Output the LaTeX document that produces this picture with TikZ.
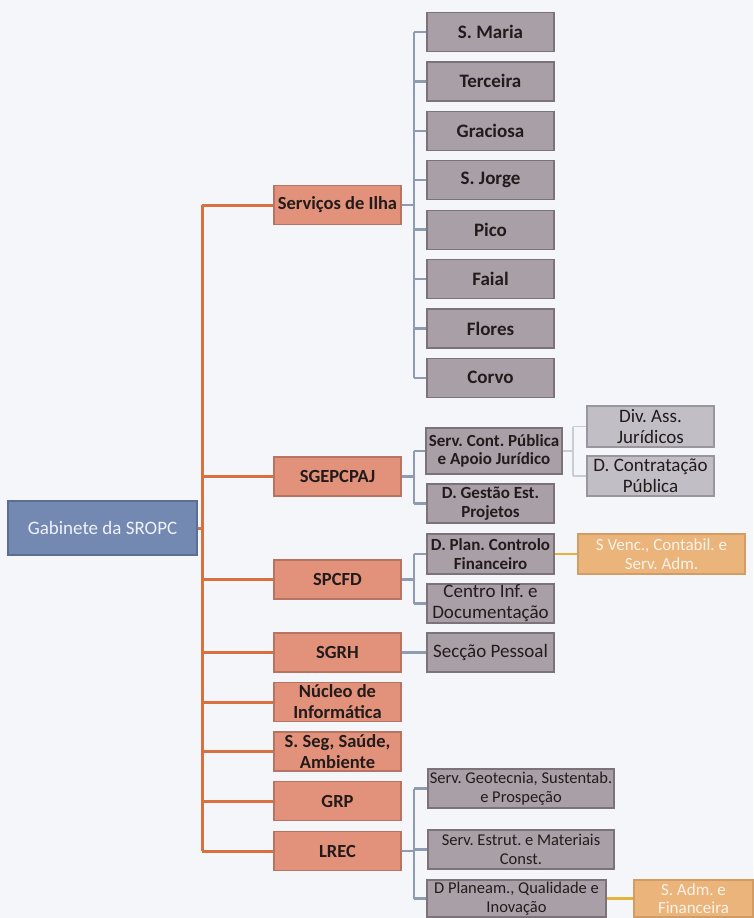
\documentclass[tikz,border=0pt]{standalone}
\usepackage{fontspec}
\setmainfont{Carlito}
\frenchspacing
\definecolor{bgcol}{HTML}{F4F6F9}
\definecolor{gabfill}{HTML}{7489B1}
\definecolor{gabdraw}{HTML}{5B6F95}
\definecolor{gabtext}{HTML}{EEF2FA}
\definecolor{orgfill}{HTML}{E2927B}
\definecolor{orgdraw}{HTML}{B87462}
\definecolor{grayfill}{HTML}{A9A0A7}
\definecolor{graydraw}{HTML}{7B7379}
\definecolor{litefill}{HTML}{C2BEC6}
\definecolor{litedraw}{HTML}{9A969E}
\definecolor{tanfill}{HTML}{EBB47A}
\definecolor{tandraw}{HTML}{D39C64}
\definecolor{tantext}{HTML}{FBF3EA}
\definecolor{boxtext}{HTML}{231B1B}
\definecolor{orgline}{HTML}{D8703F}
\definecolor{subcol}{HTML}{8E9BB0}
\definecolor{litecol}{HTML}{C9CCD6}
\definecolor{goldcol}{HTML}{E5B23A}
\begin{document}
\frenchspacing
\begin{tikzpicture}[x=1pt, y=-1pt,
    box/.style={draw, line width=1.2pt, inner sep=0.5pt, align=center, text=boxtext},
    gabbox/.style={box, fill=gabfill, draw=gabdraw, text=gabtext, minimum width=189pt, minimum height=54pt, font=\fontsize{19}{22}\selectfont},
    orgbox/.style={box, fill=orgfill, draw=orgdraw, minimum width=127pt, minimum height=39pt, font=\fontsize{18.5}{21}\selectfont\bfseries},
    ilhbox/.style={box, fill=grayfill, draw=graydraw, minimum width=127pt, minimum height=39pt, font=\fontsize{19}{21}\selectfont\bfseries},
    graybox/.style={box, fill=grayfill, draw=graydraw, minimum width=127pt, minimum height=39pt, font=\fontsize{17}{18.5}\selectfont\bfseries},
    grayreg/.style={box, fill=grayfill, draw=graydraw, minimum width=127pt, minimum height=39pt, font=\fontsize{19}{21}\selectfont},
    graysmall/.style={box, fill=grayfill, draw=graydraw, minimum height=39pt, font=\fontsize{16.5}{18.5}\selectfont},
    litebox/.style={box, fill=litefill, draw=litedraw, minimum width=127pt, minimum height=40pt, font=\fontsize{19}{21}\selectfont},
    tanbox/.style={box, fill=tanfill, draw=tandraw, text=tantext, minimum height=40pt},
    mainline/.style={orgline, line width=3pt},
    subline/.style={subcol, line width=2.5pt},
    liteline/.style={litecol, line width=1.8pt},
    goldline/.style={goldcol, line width=2.5pt}]
    \useasboundingbox (0,0) rectangle (753,918);
    \fill[bgcol] (0,0) rectangle (753,918);

    % bus positions
    \coordinate (mainbus) at (202,0);
    \coordinate (subbus) at (414,0);
    \coordinate (jurbus) at (573,0);

    \node[gabbox] (gab) at (102.5,528) {Gabinete da SROPC};

    \node[orgbox] (ilha) at (337.5,205) {Serviços de Ilha};
    \node[orgbox] (sgep) at (337.5,476.5) {SGEPCPAJ};
    \node[orgbox] (spcfd) at (337.5,579.5) {SPCFD};
    \node[orgbox] (sgrh) at (337.5,652.5) {SGRH};
    \node[orgbox] (nucleo) at (337.5,702) {Núcleo de\\Informática};
    \node[orgbox] (sseg) at (337.5,751.5) {S. Seg, Saúde,\\Ambiente};
    \node[orgbox] (grp) at (337.5,801) {GRP};
    \node[orgbox] (lrec) at (337.5,851) {LREC};

    % islands
    \node[ilhbox] (smaria) at (490.5,32) {S. Maria};
    \node[ilhbox] (terceira) at (490.5,81.4) {Terceira};
    \node[ilhbox] (graciosa) at (490.5,130.8) {Graciosa};
    \node[ilhbox] (sjorge) at (490.5,180.2) {S. Jorge};
    \node[ilhbox] (pico) at (490.5,229.6) {Pico};
    \node[ilhbox] (faial) at (490.5,279) {Faial};
    \node[ilhbox] (flores) at (490.5,328.4) {Flores};
    \node[ilhbox] (corvo) at (490.5,377.8) {Corvo};

    \node[graybox, minimum width=136pt, minimum height=46pt] (scp) at (494,451) {Serv. Cont. Pública\\e Apoio Jurídico};
    \node[graybox] (dge) at (490.5,503.5) {D. Gestão Est.\\Projetos};
    \node[litebox, minimum height=41pt] (dass) at (650.5,426.5) {Div. Ass.\\Jurídicos};
    \node[litebox] (dcontr) at (650.5,476) {D. Contratação\\Pública};

    \node[graybox, minimum height=40pt] (dplan) at (490.5,554) {D. Plan. Controlo\\Financeiro};
    \node[grayreg] (cinf) at (490.5,603.5) {Centro Inf. e\\Documentação};
    \node[tanbox, minimum width=167pt, font=\fontsize{17}{18.5}\selectfont] (svenc) at (661.5,554) {S Venc., Contabil. e\\Serv. Adm.};

    \node[grayreg] (spess) at (490.5,652.5) {Secção Pessoal};

    \node[graysmall, minimum width=186pt] (sgeo) at (521,788.5) {Serv. Geotecnia, Sustentab.\\e Prospeção};
    \node[graysmall, minimum width=186pt] (sestr) at (521,849.5) {Serv. Estrut. e Materiais\\Const.};
    \node[graysmall, minimum width=179pt, minimum height=37pt] (dplq) at (516.5,898.5) {D Planeam., Qualidade e\\Inovação};
    \node[tanbox, minimum width=119pt, minimum height=37pt, font=\fontsize{17}{17.5}\selectfont] (sadm) at (693.5,898.5) {S. Adm. e\\Financeira};

    % main tree
    \draw[mainline] (gab.east) -- (gab.east -| mainbus);
    \draw[mainline] (ilha.west -| mainbus) -- (lrec.west -| mainbus);
    \draw[mainline] (ilha.west) -- (ilha.west -| mainbus);
    \draw[mainline] (sgep.west) -- (sgep.west -| mainbus);
    \draw[mainline] (spcfd.west) -- (spcfd.west -| mainbus);
    \draw[mainline] (sgrh.west) -- (sgrh.west -| mainbus);
    \draw[mainline] (nucleo.west) -- (nucleo.west -| mainbus);
    \draw[mainline] (sseg.west) -- (sseg.west -| mainbus);
    \draw[mainline] (grp.west) -- (grp.west -| mainbus);
    \draw[mainline] (lrec.west) -- (lrec.west -| mainbus);

    % islands
    \draw[subline] (ilha.east) -- (ilha.east -| subbus);
    \draw[subline] (smaria.west -| subbus) -- (corvo.west -| subbus);
    \draw[subline] (smaria.west) -- (smaria.west -| subbus);
    \draw[subline] (terceira.west) -- (terceira.west -| subbus);
    \draw[subline] (graciosa.west) -- (graciosa.west -| subbus);
    \draw[subline] (sjorge.west) -- (sjorge.west -| subbus);
    \draw[subline] (pico.west) -- (pico.west -| subbus);
    \draw[subline] (faial.west) -- (faial.west -| subbus);
    \draw[subline] (flores.west) -- (flores.west -| subbus);
    \draw[subline] (corvo.west) -- (corvo.west -| subbus);

    % SGEPCPAJ
    \draw[subline] (sgep.east) -- (sgep.east -| subbus);
    \draw[subline] (scp.west -| subbus) -- (dge.west -| subbus);
    \draw[subline] (scp.west) -- (scp.west -| subbus);
    \draw[subline] (dge.west) -- (dge.west -| subbus);
    \draw[liteline] (scp.east) -- (scp.east -| jurbus);
    \draw[liteline] (dass.west -| jurbus) -- (dcontr.west -| jurbus);
    \draw[liteline] (dass.west) -- (dass.west -| jurbus);
    \draw[liteline] (dcontr.west) -- (dcontr.west -| jurbus);

    % SPCFD
    \draw[subline] (spcfd.east) -- (spcfd.east -| subbus);
    \draw[subline] (dplan.west -| subbus) -- (cinf.west -| subbus);
    \draw[subline] (dplan.west) -- (dplan.west -| subbus);
    \draw[subline] (cinf.west) -- (cinf.west -| subbus);
    \draw[goldline] (dplan.east) -- (svenc.west);

    % SGRH
    \draw[subline] (sgrh.east) -- (spess.west);

    % LREC
    \draw[subline] (lrec.east) -- (lrec.east -| subbus);
    \draw[subline] (sgeo.west -| subbus) -- (dplq.west -| subbus);
    \draw[subline] (sgeo.west) -- (sgeo.west -| subbus);
    \draw[subline] (sestr.west) -- (sestr.west -| subbus);
    \draw[subline] (dplq.west) -- (dplq.west -| subbus);
    \draw[goldline] (dplq.east) -- (sadm.west);
\end{tikzpicture}
\end{document}
